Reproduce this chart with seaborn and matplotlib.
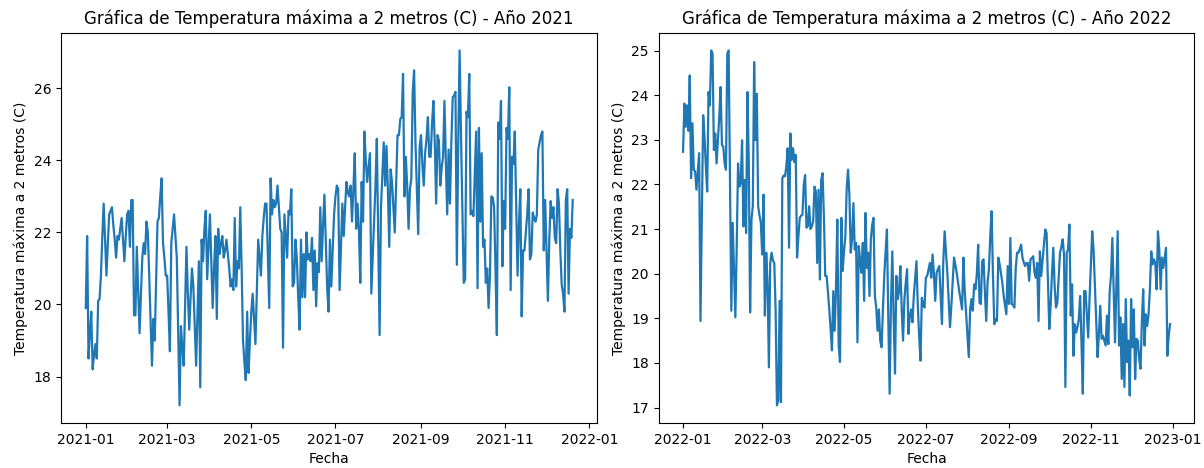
import matplotlib
matplotlib.use("Agg")
import matplotlib.pyplot as plt
import seaborn as sns
import pandas as pd

# Daily maximum temperature at 2 m (°C)
inicio_2021 = "2021-01-01"
tmax_2021 = [
    19.9, 21.9, 18.5, 19.2, 19.8, 18.2, 18.6, 18.9, 18.5, 20.1, 20.15, 20.8, 21.9, 22.8, 21.8, 20.8,
    21.7, 22.5, 22.6, 22.7, 22.2, 21.8, 21.3, 21.9, 21.8, 22.1, 22.4, 21.8, 21.2, 21.9, 22.5, 22.6,
    21.6, 22.9, 22.9, 19.7, 19.7, 21.6, 20.4, 19.2, 20.3, 21.3, 21.7, 21.4, 22.3, 22.0, 20.8, 19.5,
    18.3, 19.6, 19.0, 20.6, 22.3, 22.4, 23.0, 23.5, 21.7, 21.3, 20.8, 20.8, 19.8, 18.7, 21.7, 22.1,
    22.5, 21.9, 21.3, 19.3, 17.2, 19.4, 18.8, 18.3, 20.0, 21.6,
    20.3, 19.3, 20.2, 21.0, 20.5, 19.4, 18.3, 19.8, 21.2, 17.7, 21.8, 21.2, 22.1, 22.6, 20.7, 21.6,
    22.5, 21.2, 19.9, 21.0, 21.9, 19.6, 22.1, 21.4, 21.7, 21.9, 21.3, 21.5, 21.8, 21.4, 21.0, 20.5,
    20.7, 20.4, 22.4, 20.5, 21.2, 21.0, 22.7, 21.0, 19.0, 18.4, 17.9, 19.8, 18.1, 19.0, 19.8, 20.3,
    19.6, 18.9, 20.4, 21.8, 21.3, 20.8, 21.9, 22.4, 22.8, 22.8, 21.3, 19.9, 23.5, 22.5, 22.9, 22.7,
    22.8, 23.3, 22.7, 22.1, 22.0, 18.8, 22.5, 21.9, 21.3, 22.6,
    22.5, 23.2, 20.5, 20.6, 21.8, 21.3, 20.2, 19.3, 21.8, 20.2, 21.4, 20.2, 22.0, 21.25, 21.4, 21.2,
    21.85, 20.4, 21.5, 19.95, 21.15, 20.9, 22.7, 21.2, 22.2, 23.05, 21.8, 20.45, 19.8, 21.8, 20.5,
    21.5, 22.5, 23.0, 23.3, 23.2, 20.4, 21.6, 22.8, 21.9, 22.7, 23.4, 23.1, 23.0, 23.3, 22.3, 23.2,
    24.2, 22.1, 22.8, 22.1, 20.6, 23.4, 22.3, 24.8, 24.0, 23.4, 23.8, 24.2, 20.3, 21.3, 22.3, 23.3,
    24.6, 21.8, 19.15, 22.7, 23.6, 24.5, 23.3, 24.4, 23.2, 21.6, 23.75,
    23.4, 22.7, 22.0, 23.4, 24.7, 24.7, 25.15, 25.2, 26.4, 23.0, 24.1, 23.3, 22.1, 23.2, 23.5, 25.9,
    26.5, 24.5, 23.2, 21.95, 24.35, 24.7, 23.9, 23.3, 24.2, 24.6, 25.2, 24.1, 24.1, 25.0, 25.65,
    24.5, 22.8, 24.7, 24.55, 23.3, 23.8, 24.1, 25.65, 24.0, 22.5, 24.3, 22.8, 24.5, 25.75, 25.8,
    25.9, 21.1, 24.5, 27.05, 24.7, 22.6, 20.6, 20.7, 25.35, 25.2, 26.4, 22.5, 22.6, 22.45, 23.6,
    24.8, 20.45, 24.9, 22.3, 24.2, 21.6, 21.8, 20.6, 21.0, 19.9, 20.8, 23.0,
    22.97, 22.7, 21.0, 19.15, 25.05, 24.6, 25.65, 21.06, 22.87, 22.1, 24.9, 24.6, 26.03, 20.4,
    24.1, 23.9, 24.8, 22.8, 20.8, 22.2, 23.2, 19.67, 21.5, 21.5, 22.0, 22.5, 23.2, 21.25, 21.4,
    22.55, 22.4, 22.3, 22.5, 24.3, 24.5, 24.7, 24.8, 21.5, 22.9, 21.5, 20.1, 21.8, 22.87, 22.4,
    22.7, 21.85, 21.7, 23.2, 22.8, 21.5, 20.55, 20.3, 19.8, 22.9, 23.2, 20.3, 22.1, 21.85, 22.9,
]

inicio_2022 = "2022-01-01"
tmax_2022 = [
    22.73, 23.81, 23.29, 23.77, 23.2, 24.44, 22.14, 23.37, 22.33, 22.29, 21.88, 22.3, 22.7, 18.94,
    21.29, 23.55, 23.07, 22.4, 21.84, 24.07, 23.77, 25.0, 24.93, 22.77, 23.14, 22.47, 22.99, 23.51,
    24.18, 22.88, 22.85, 22.47, 22.33, 24.93, 25.0, 22.18, 19.17, 21.14, 20.1, 19.02, 20.6, 22.47,
    21.95, 22.03, 22.99, 21.06, 22.1, 20.91, 24.07, 22.51, 19.13, 21.21, 21.51, 24.74, 22.99, 24.03,
    21.51, 21.3, 21.14, 20.43, 21.77, 19.06, 20.47, 19.8, 17.9, 20.24, 20.47, 20.3, 20.24, 19.2,
    17.05, 17.16, 19.39, 17.12, 22.14, 22.2, 22.18, 22.4, 22.81, 20.58, 23.14, 22.55, 22.81, 22.5,
    22.66, 20.36, 20.84, 21.25, 21.3, 21.32, 22.0, 22.21, 21.03, 21.06, 21.51, 21.0, 21.06, 21.17,
    21.95, 21.84, 20.24, 21.88, 19.87, 22.1, 22.25, 21.29, 19.95, 19.95, 19.6, 19.2, 18.76, 18.28,
    19.61, 18.72, 19.65, 21.21, 18.4, 18.02, 21.25, 20.06, 20.5, 20.84, 21.92, 22.33, 21.77, 20.47,
    20.77, 21.58, 20.54, 20.69, 18.46, 20.62, 20.3, 20.02, 20.69, 19.39, 21.36, 20.13, 20.47, 19.5,
    20.77, 21.1, 21.25, 19.5, 19.24, 18.72, 19.2, 18.5, 18.35, 19.2, 19.95, 20.5, 20.99, 19.0,
    17.31, 19.35, 20.5, 19.0, 17.76, 19.95, 19.43, 19.6, 20.17, 19.2, 18.5, 19.43, 19.8, 20.1,
    18.65, 19.06, 19.2, 18.91, 19.5, 19.9, 20.28, 19.28, 18.6, 18.05, 19.46, 19.3, 19.24, 19.91,
    19.95, 20.1, 20.24, 19.91, 20.43, 20.0, 19.39, 20.02, 20.1, 20.17, 19.5, 18.87, 20.28, 20.95,
    20.5, 20.02, 19.4, 18.8, 19.28, 19.8, 20.36, 20.2, 20.02, 19.8, 19.58, 19.4, 19.2, 20.36, 19.6,
    19.1, 18.6, 18.13, 19.2, 19.43, 19.17, 19.76, 19.65, 20.0, 20.65, 19.35, 19.32, 20.28, 20.32,
    19.6, 18.94, 19.8, 20.1, 20.84, 21.4, 20.0, 18.87, 18.98, 18.94, 20.36, 20.21, 20.0, 19.8, 19.5,
    19.3, 19.09, 20.17, 19.32, 20.8, 19.32, 19.3, 19.24, 20.13, 20.47, 20.47, 20.55, 20.65, 20.36,
    20.25, 20.17, 20.24, 20.24, 19.84, 20.32, 20.35, 20.39, 20.02, 19.91, 20.24, 18.94, 20.5, 19.95,
    20.3, 20.65, 20.99, 20.91, 19.8, 18.76, 19.28, 20.0, 20.58, 19.72, 19.24, 19.35, 19.9, 20.47,
    20.6, 20.77, 20.43, 17.46, 20.47, 20.54, 21.1, 19.06, 19.76, 18.16, 18.87, 18.68, 18.8, 18.98,
    19.5, 18.46, 17.31, 19.61, 19.61, 19.1, 18.57, 19.43, 20.2, 20.95, 20.54, 19.72, 18.9, 18.13,
    18.65, 19.28, 18.54, 18.61, 18.5, 18.39, 19.06, 18.42, 19.58, 19.95, 20.8, 19.6, 18.46, 19.72,
    20.95, 18.39, 19.02, 17.64, 18.87, 17.46, 19.43, 18.02, 18.5, 17.27, 19.43, 18.35, 19.2, 17.64,
    18.54, 18.5, 18.09, 17.87, 18.91, 19.65, 18.39, 19.09, 18.83, 19.09, 19.65, 20.5, 20.21, 20.32,
    20.24, 19.65, 20.95, 20.54, 19.65, 20.36, 20.13, 20.36, 20.58, 18.16, 18.6, 18.87,
]

series = [
    (2021, inicio_2021, tmax_2021),
    (2022, inicio_2022, tmax_2022),
]

titulo = "Gráfica de Temperatura máxima a 2 metros (C) - Año {}"
etiqueta_x = "Fecha"
etiqueta_y = "Temperatura máxima a 2 metros (C)"

fig, axes = plt.subplots(1, 2, figsize=(12.04, 4.68), dpi=100)

for ax, (anio, inicio, valores) in zip(axes, series):
    df = pd.DataFrame({
        "fecha": pd.date_range(inicio, periods=len(valores), freq="D"),
        "tmax": valores,
    })
    sns.lineplot(data=df, x="fecha", y="tmax", ax=ax, color="#1f77b4", linewidth=1.6)
    ax.set_title(titulo.format(anio), fontsize=12)
    ax.set_xlabel(etiqueta_x)
    ax.set_ylabel(etiqueta_y)

fig.subplots_adjust(left=0.051, right=0.992, bottom=0.096, top=0.93, wspace=0.115)
fig.savefig("out.png", dpi=100)
